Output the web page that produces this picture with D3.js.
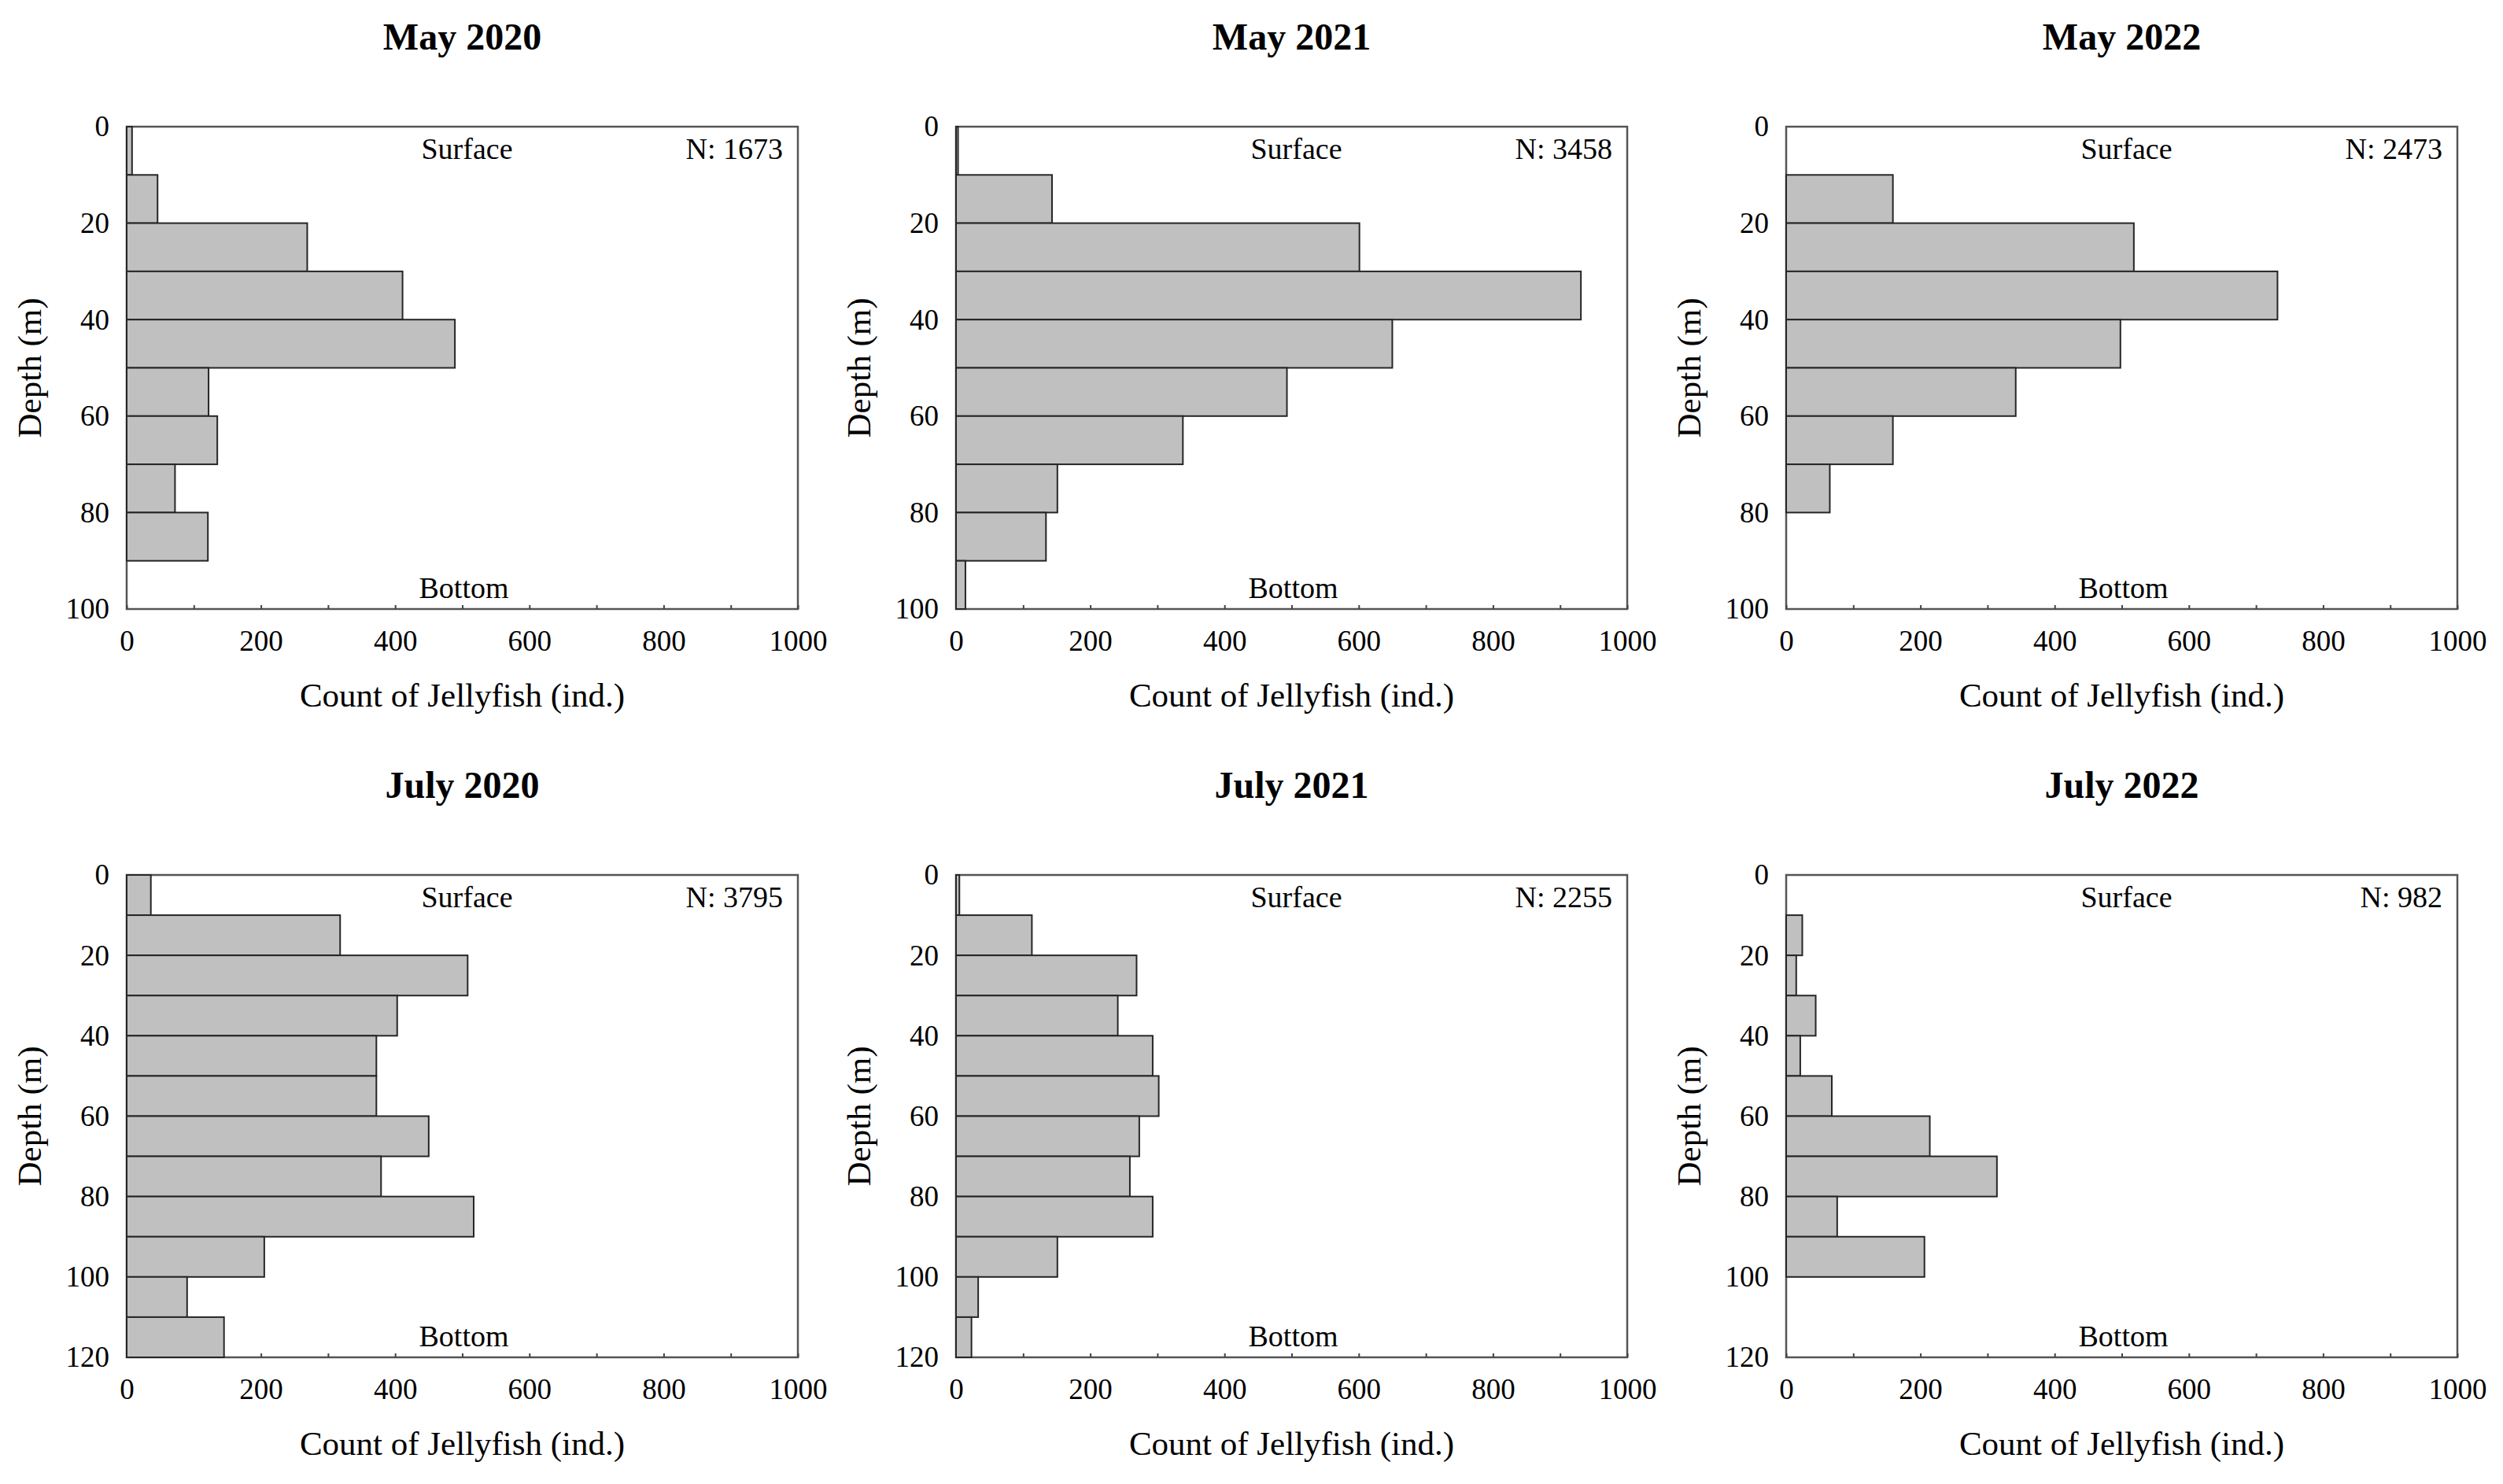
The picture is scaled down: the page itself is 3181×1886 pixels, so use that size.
<!DOCTYPE html>
<html>
<meta charset="utf-8">
<style>
    body { margin: 0; background: #fff; }
    text { font-family: "Liberation Serif", "Times New Roman", serif; fill: #000; }
    .frame { fill: none; stroke: #555; stroke-width: 2.5px; }
    .bar { fill: #c0c0c0; stroke: #262626; stroke-width: 2px; }
    .axis path { display: none; }
    .axis line { stroke: #444; stroke-width: 2px; }
</style>
<body>
<script src="https://d3js.org/d3.v7.min.js"></script>
<div id="chart"></div>
<script>
// Panel titles and sample totals, in reading order.
var titles = ["May 2020", "May 2021", "May 2022", "July 2020", "July 2021", "July 2022"];
var totals = [1673, 3458, 2473, 3795, 2255, 982];
var maxDepth = [100, 100, 100, 120, 120, 120];

// Count of jellyfish per 10 m depth bin, starting at the surface.
var may2020  = [8, 46, 269, 411, 489, 122, 135, 72, 121];
var may2021  = [3, 143, 601, 931, 650, 493, 338, 151, 134, 14];
var may2022  = [0, 159, 518, 732, 498, 342, 159, 65];
var july2020 = [36, 318, 508, 403, 372, 372, 450, 379, 517, 205, 90, 145];
var july2021 = [5, 113, 269, 241, 293, 302, 273, 259, 293, 151, 33, 23];
var july2022 = [0, 24, 15, 44, 21, 68, 214, 314, 76, 206, 0, 0];
var counts = [may2020, may2021, may2022, july2020, july2021, july2022];

var binSize = 10;
var xTicks = d3.range(0, 1001, 100);
var xLabels = [0, 200, 400, 600, 800, 1000];
var yLabels = [d3.range(0, 101, 20), d3.range(0, 121, 20)];

// Layout of the 2 x 3 grid.
var W = 3181, H = 1886;
var plotW = 853, plotH = 613;
var colLeft = [161, 1215, 2270];
var rowTop = [161, 1112];
var serif = '"Liberation Serif", "Times New Roman", serif';

var svg = d3.select("#chart").append("svg")
    .attr("width", W).attr("height", H);

var drawPanel = function(i) {
    var left = colLeft[i % 3], top = rowTop[Math.floor(i / 3)];
    var g = svg.append("g").attr("transform", "translate(" + left + "," + top + ")");

    var x = d3.scaleLinear().domain([0, 1000]).range([0, plotW]);
    var y = d3.scaleLinear().domain([0, maxDepth[i]]).range([0, plotH]);

    g.append("rect").attr("class", "frame")
        .attr("width", plotW).attr("height", plotH);

    // x axis: inward ticks every 100, labels every 200
    g.append("g").attr("class", "axis")
        .attr("transform", "translate(0," + plotH + ")")
        .call(d3.axisBottom(x).tickValues(xTicks).tickSize(-5).tickPadding(27)
            .tickFormat(function(d) { return xLabels.indexOf(d) >= 0 ? d : ""; }))
        .selectAll("text").style("font-size", "37px").style("font-family", serif);

    g.append("g").attr("class", "axis")
        .call(d3.axisLeft(y).tickValues(maxDepth[i] === 100 ? yLabels[0] : yLabels[1])
            .tickSize(0).tickPadding(22))
        .selectAll("text").style("font-size", "37px").style("font-family", serif);

    var data = counts[i].map(function(c, k) { return {depth: k * binSize, count: c}; })
        .filter(function(d) { return d.count > 0; });

    g.selectAll(".bar").data(data).enter().append("rect")
        .attr("class", "bar")
        .attr("x", x(0))
        .attr("y", function(d) { return y(d.depth); })
        .attr("width", function(d) { return x(d.count) - x(0); })
        .attr("height", y(binSize) - y(0));

    g.append("text").text("Surface")
        .attr("x", plotW / 2 + 6).attr("y", 41)
        .attr("text-anchor", "middle").style("font-size", "38px");
    g.append("text").text("Bottom")
        .attr("x", plotW / 2 + 2).attr("y", plotH - 14)
        .attr("text-anchor", "middle").style("font-size", "38px");
    g.append("text").text("N: " + totals[i])
        .attr("x", plotW - 19).attr("y", 41)
        .attr("text-anchor", "end").style("font-size", "38px");

    g.append("text").text(titles[i])
        .attr("x", plotW / 2).attr("y", -98)
        .attr("text-anchor", "middle")
        .style("font-size", "48px").style("font-weight", "bold");

    g.append("text").text("Count of Jellyfish (ind.)")
        .attr("x", plotW / 2).attr("y", plotH + 124)
        .attr("text-anchor", "middle").style("font-size", "43px");

    g.append("text").text("Depth (m)")
        .attr("transform", "translate(-109," + (plotH / 2) + ") rotate(-90)")
        .attr("text-anchor", "middle").style("font-size", "43px");
};

for (var i = 0; i < titles.length; i++) {
    drawPanel(i);
}
</script>
</body>
</html>
